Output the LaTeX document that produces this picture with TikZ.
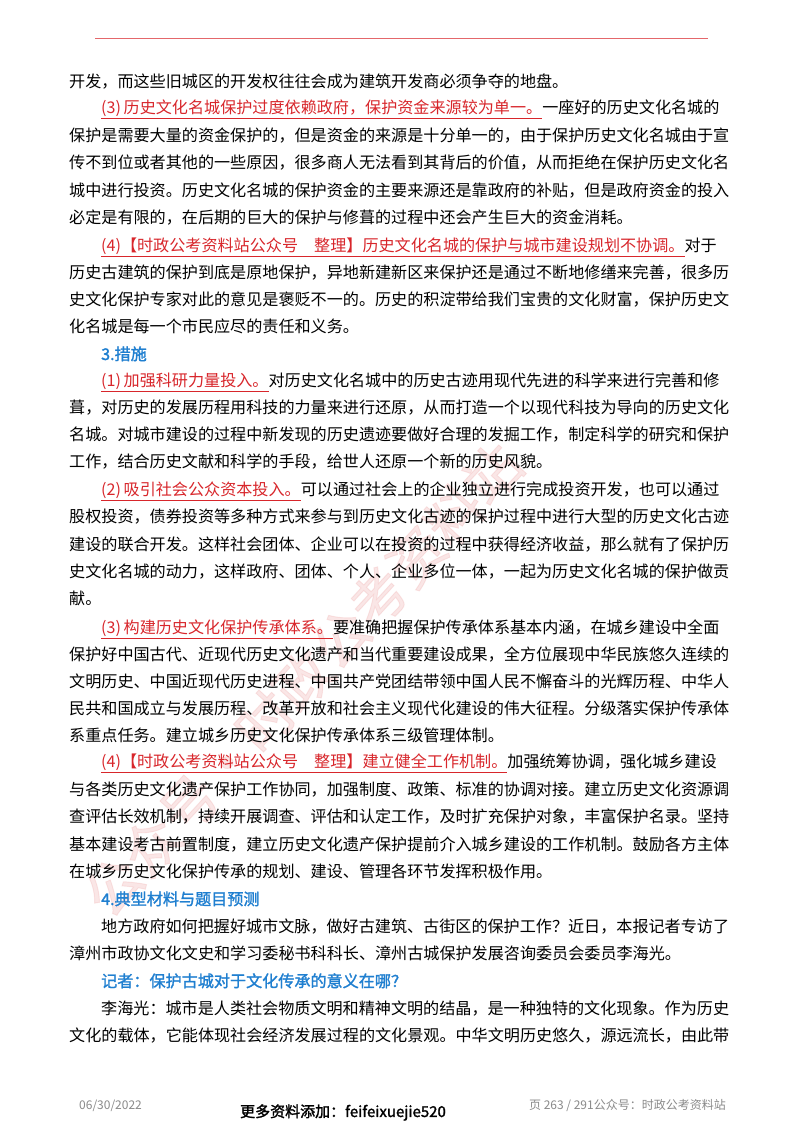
\documentclass[tikz,border=0pt]{standalone}
\usepackage{fontspec}
\setmainfont{Noto Sans CJK SC}
\newfontfamily\cjkbold[FakeBold=1.6]{Noto Sans CJK SC}
\XeTeXlinebreaklocale "zh"
\XeTeXlinebreakskip=0pt plus 4pt
\definecolor{redt}{HTML}{D8262B}
\definecolor{bluet}{HTML}{1F7FD0}
\definecolor{grayt}{HTML}{8A8A8A}
\definecolor{wm}{HTML}{F2B8B8}
\newcommand{\R}[1]{{\color{redt}$\underline{\hbox{#1}}$}}
\newcommand{\B}[1]{{\color{bluet}\cjkbold #1}}
\newcommand{\J}[4]{\node[txt] (#1) at (#3,{1126-#2}) {\makebox[\dimexpr736pt-#3pt\relax][s]{#4}};}
\newcommand{\Lx}[4]{\node[txt] (#1) at (#3,{1126-#2}) {#4};}
\begin{document}
\begin{tikzpicture}[x=1pt,y=1pt,txt/.style={anchor=base west,inner sep=0pt,font=\fontsize{16.1}{19}\selectfont}]
\useasboundingbox (0,0) rectangle (800,1132);
\fill[white] (0,0) rectangle (800,1132);
\node[rotate=47.5,opacity=0.35,text=wm,font=\fontsize{56}{60}\selectfont\cjkbold] (wmk) at (385,542) {\makebox[860pt][s]{公众号·时政公考资料站}};
\coordinate (h1) at (95,1094); \coordinate (h2) at (708,1094);
\draw[color=redt!70,line width=0.8pt] (h1) -- (h2);
\Lx{l1}{82}{69}{开发，而这些旧城区的开发权往往会成为建筑开发商必须争夺的地盘。}
\J{l2}{108}{101}{\R{(3)\,历史文化名城保护过度依赖政府，保护资金来源较为单一。}一座好的历史文化名城的}
\J{l3}{136}{69}{保护是需要大量的资金保护的，但是资金的来源是十分单一的，由于保护历史文化名城由于宣}
\J{l4}{163}{69}{传不到位或者其他的一些原因，很多商人无法看到其背后的价值，从而拒绝在保护历史文化名}
\J{l5}{191}{69}{城中进行投资。历史文化名城的保护资金的主要来源还是靠政府的补贴，但是政府资金的投入}
\Lx{l6}{218}{69}{必定是有限的，在后期的巨大的保护与修葺的过程中还会产生巨大的资金消耗。}
\J{l7}{246}{101}{\R{(4)【时政公考资料站公众号\quad 整理】历史文化名城的保护与城市建设规划不协调。}对于}
\J{l8}{273}{69}{历史古建筑的保护到底是原地保护，异地新建新区来保护还是通过不断地修缮来完善，很多历}
\J{l9}{300}{69}{史文化保护专家对此的意见是褒贬不一的。历史的积淀带给我们宝贵的文化财富，保护历史文}
\Lx{l10}{327}{69}{化名城是每一个市民应尽的责任和义务。}
\Lx{l11}{354}{101}{\B{3.措施}}
\J{l12}{381}{101}{\R{(1)\,加强科研力量投入。}对历史文化名城中的历史古迹用现代先进的科学来进行完善和修}
\J{l13}{408}{69}{葺，对历史的发展历程用科技的力量来进行还原，从而打造一个以现代科技为导向的历史文化}
\J{l14}{435}{69}{名城。对城市建设的过程中新发现的历史遗迹要做好合理的发掘工作，制定科学的研究和保护}
\Lx{l15}{462}{69}{工作，结合历史文献和科学的手段，给世人还原一个新的历史风貌。}
\J{l16}{490}{101}{\R{(2)\,吸引社会公众资本投入。}可以通过社会上的企业独立进行完成投资开发，也可以通过}
\J{l17}{517}{69}{股权投资，债券投资等多种方式来参与到历史文化古迹的保护过程中进行大型的历史文化古迹}
\J{l18}{545}{69}{建设的联合开发。这样社会团体、企业可以在投资的过程中获得经济收益，那么就有了保护历}
\J{l19}{572}{69}{史文化名城的动力，这样政府、团体、个人、企业多位一体，一起为历史文化名城的保护做贡}
\Lx{l20}{599}{69}{献。}
\J{l21}{628}{101}{\R{(3)\,构建历史文化保护传承体系。}要准确把握保护传承体系基本内涵，在城乡建设中全面}
\J{l22}{655}{69}{保护好中国古代、近现代历史文化遗产和当代重要建设成果，全方位展现中华民族悠久连续的}
\J{l23}{682}{69}{文明历史、中国近现代历史进程、中国共产党团结带领中国人民不懈奋斗的光辉历程、中华人}
\J{l24}{709}{69}{民共和国成立与发展历程、改革开放和社会主义现代化建设的伟大征程。分级落实保护传承体}
\Lx{l25}{736}{69}{系重点任务。建立城乡历史文化保护传承体系三级管理体制。}
\J{l26}{762}{101}{\R{(4)【时政公考资料站公众号\quad 整理】建立健全工作机制。}加强统筹协调，强化城乡建设}
\J{l27}{790}{69}{与各类历史文化遗产保护工作协同，加强制度、政策、标准的协调对接。建立历史文化资源调}
\J{l28}{817}{69}{查评估长效机制，持续开展调查、评估和认定工作，及时扩充保护对象，丰富保护名录。坚持}
\J{l29}{845}{69}{基本建设考古前置制度，建立历史文化遗产保护提前介入城乡建设的工作机制。鼓励各方主体}
\Lx{l30}{872}{69}{在城乡历史文化保护传承的规划、建设、管理各环节发挥积极作用。}
\Lx{l31}{899}{101}{\B{4.典型材料与题目预测}}
\J{l32}{927}{101}{地方政府如何把握好城市文脉，做好古建筑、古街区的保护工作？近日，本报记者专访了}
\Lx{l33}{954}{69}{漳州市政协文化文史和学习委秘书科科长、漳州古城保护发展咨询委员会委员李海光。}
\Lx{l34}{981}{101}{\B{记者：保护古城对于文化传承的意义在哪？}}
\J{l35}{1009}{101}{李海光：城市是人类社会物质文明和精神文明的结晶，是一种独特的文化现象。作为历史}
\J{l36}{1036}{69}{文化的载体，它能体现社会经济发展过程的文化景观。中华文明历史悠久，源远流长，由此带}
\node[anchor=base west,inner sep=0pt,text=grayt,font=\fontsize{12}{14}\selectfont] (date) at (79,23) {06/30/2022};
\node[anchor=base,inner sep=0pt,font=\fontsize{15}{18}\selectfont\cjkbold] (more) at (343,15) {更多资料添加：feifeixuejie520};
\node[anchor=base east,inner sep=0pt,text=grayt,font=\fontsize{12}{14}\selectfont] (page) at (726,23) {页 263 / 291公众号：时政公考资料站};
\end{tikzpicture}
\end{document}
